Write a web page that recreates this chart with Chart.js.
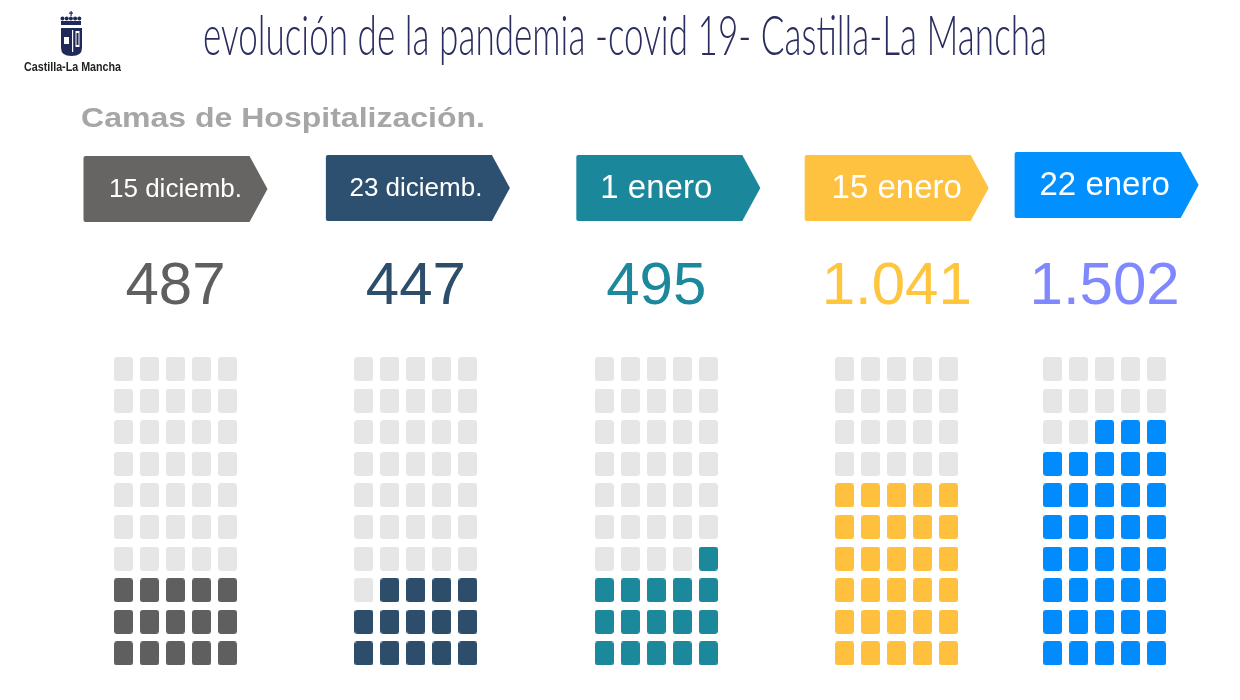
<!DOCTYPE html>
<html><head><meta charset="utf-8">
<script src="https://cdn.jsdelivr.net/npm/chart.js@4"></script>
<style>html,body{margin:0;padding:0;background:#fff;overflow:hidden}canvas{display:block}</style>
</head><body>
<div style="width:1240px;height:700px"><canvas id="c" width="1240" height="700"></canvas></div>
<script>
// ---------- data ----------
const categories = ['15 diciemb.', '23 diciemb.', '1 enero', '15 enero', '22 enero'];
const beds = [487, 447, 495, 1041, 1502];
const filledCells = [15, 14, 16, 30, 38];
const gridColumns = 5;
const gridRows = 10;
const titleText = 'evolución de la pandemia -covid 19- Castilla-La Mancha';
const subtitleText = 'Camas de Hospitalización.';
const brandText = 'Castilla-La Mancha';

// ---------- style / layout ----------
const fillColors = ['#5f5f5f', '#2d4e6b', '#1b889c', '#ffc03d', '#008bff'];
const tagColors = ['#666564', '#2e5070', '#1a879b', '#ffc140', '#0090ff'];
const numberColors = ['#5f5f5f', '#2d4e6b', '#1b889c', '#ffc53d', '#8088ff'];
const emptyColor = '#e6e6e6';
const tagFontSize = [26, 26, 33, 33, 33];
const slot = [0, 1, 2, 3, 3.865];
const tagShift = [0, 2, 12, 0, 2];
const tagTop = [156, 155, 155, 155, 152];
const colStep = 0.1082;

function fmt(n) {
  return String(n).replace(/\B(?=(\d{3})+(?!\d))/g, '.');
}

function cellImage(color) {
  const c = document.createElement('canvas');
  c.width = 19; c.height = 24;
  const x = c.getContext('2d');
  x.fillStyle = color;
  x.beginPath();
  x.roundRect(0, 0, 19, 24, 3);
  x.fill();
  return c;
}
const emptyImg = cellImage(emptyColor);
const fillImgs = fillColors.map(cellImage);

const datasets = categories.map((cat, g) => {
  const data = [], styles = [];
  for (let i = 0; i < gridColumns * gridRows; i++) {
    const row = Math.floor(i / gridColumns);
    const col = gridColumns - 1 - (i % gridColumns);
    data.push({ x: slot[g] + (col - (gridColumns - 1) / 2) * colStep, y: row });
    styles.push(i < filledCells[g] ? fillImgs[g] : emptyImg);
  }
  return { label: cat, data, pointStyle: styles, pointRadius: 10, pointHoverRadius: 10 };
});

const decor = {
  id: 'decor',
  afterDatasetsDraw(chart) {
    const ctx = chart.ctx;
    const xs = chart.scales.x;
    ctx.save();
    // title
    ctx.fillStyle = '#2a2d5e';
    ctx.font = '300 55px Lato';
    ctx.textBaseline = 'alphabetic';
    ctx.textAlign = 'left';
    let w = ctx.measureText(titleText).width;
    ctx.save();
    ctx.translate(203, 55);
    ctx.scale(844 / w, 1);
    ctx.fillText(titleText, 0, 0);
    ctx.restore();

    // subtitle
    ctx.fillStyle = '#a6a6a6';
    ctx.font = 'bold 28px "Liberation Sans", Arial';
    w = ctx.measureText(subtitleText).width;
    ctx.save();
    ctx.translate(81, 127);
    ctx.scale(404 / w, 1);
    ctx.fillText(subtitleText, 0, 0);
    ctx.restore();

    // logo
    ctx.fillStyle = '#1f2a5a';
    ctx.beginPath();
    ctx.rect(61, 21, 20, 4);
    ctx.fill();
    for (let k = 0; k < 5; k++) {
      ctx.beginPath();
      ctx.arc(62.5 + k * 4.2, 18.5, 2, 0, Math.PI * 2);
      ctx.fill();
    }
    ctx.fillRect(70.5, 11, 1.2, 5);
    ctx.fillRect(69, 12.5, 4, 1.2);
    ctx.beginPath();
    ctx.moveTo(61, 28); ctx.lineTo(82, 28); ctx.lineTo(82, 48);
    ctx.quadraticCurveTo(82, 56, 71.5, 56);
    ctx.quadraticCurveTo(61, 56, 61, 48);
    ctx.closePath();
    ctx.fill();
    ctx.fillStyle = '#ffffff';
    ctx.fillRect(72, 30, 1.2, 22);
    ctx.fillRect(64, 37, 5, 7);
    ctx.fillRect(75.5, 31, 4, 16);
    ctx.fillStyle = '#1f2a5a';
    ctx.fillRect(76.5, 33, 2, 12);
    ctx.fillStyle = '#222222';
    ctx.font = 'bold 13px "Liberation Sans", Arial';
    w = ctx.measureText(brandText).width;
    ctx.save();
    ctx.translate(24, 71);
    ctx.scale(97 / w, 1);
    ctx.fillText(brandText, 0, 0);
    ctx.restore();

    // tags and numbers
    categories.forEach((cat, g) => {
      const cx = xs.getPixelForValue(slot[g]);
      const ax = cx + tagShift[g];
      const left = ax - 92, body = ax + 74, tip = ax + 92;
      const top = tagTop[g], bot = top + 66;
      ctx.fillStyle = tagColors[g];
      ctx.beginPath();
      ctx.moveTo(left + 2, top);
      ctx.lineTo(body, top);
      ctx.lineTo(tip, (top + bot) / 2);
      ctx.lineTo(body, bot);
      ctx.lineTo(left + 2, bot);
      ctx.quadraticCurveTo(left, bot, left, bot - 2);
      ctx.lineTo(left, top + 2);
      ctx.quadraticCurveTo(left, top, left + 2, top);
      ctx.closePath();
      ctx.fill();
      ctx.fillStyle = '#ffffff';
      ctx.textAlign = 'center';
      ctx.textBaseline = 'middle';
      ctx.font = tagFontSize[g] + 'px "Liberation Sans", Arial';
      ctx.fillText(cat, cx, (top + bot) / 2 + 1);

      ctx.fillStyle = numberColors[g];
      ctx.textBaseline = 'alphabetic';
      ctx.font = '60px "Liberation Sans", Arial';
      ctx.fillText(fmt(beds[g]), cx, 304);
    });
    ctx.restore();
  }
};

new Chart(document.getElementById('c'), {
  type: 'scatter',
  data: { datasets },
  options: {
    responsive: false,
    animation: false,
    events: [],
    layout: { padding: 0, autoPadding: false },
    plugins: { legend: { display: false }, tooltip: { enabled: false } },
    scales: {
      x: { type: 'linear', display: false, min: -0.730, max: 4.428 },
      y: { type: 'linear', display: false, min: -1.475, max: 20.68 }
    }
  },
  plugins: [decor]
});
</script>
</body></html>
